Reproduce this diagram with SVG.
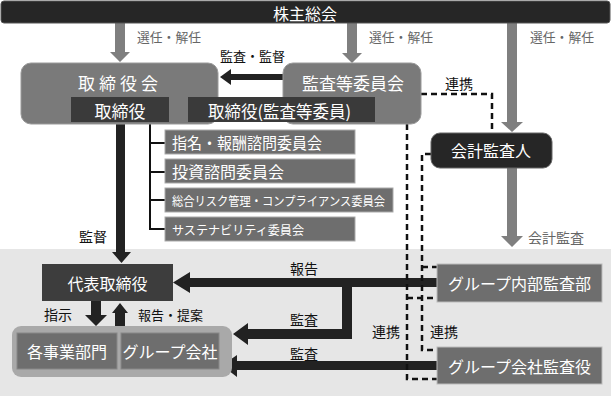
<svg xmlns="http://www.w3.org/2000/svg" width="611" height="396" viewBox="0 0 611 396">
<style>
text{font-family:"Noto Sans CJK JP","Noto Sans CJK SC",sans-serif;dominant-baseline:central}
.w{fill:#fff;font-size:16px}
.ws{fill:#fff;font-size:12.5px}
.lb{fill:#111;font-size:14px}
.lg{fill:#666;font-size:13px}
.mid{fill:#7a7a7a;stroke:#9a9a9a;stroke-width:1}
.dk{fill:#3a3a3a}
.cm{fill:#6e6e6e;stroke:#aaa;stroke-width:1}
.ga{fill:#7f7f7f}
.da{fill:#222}
.dash{fill:none;stroke:#111;stroke-width:2.5;stroke-dasharray:6 4}
</style>
<rect x="0" y="249" width="611" height="147" fill="#e6e6e6"/>
<g id="connectors">
  <path class="ga" d="M115,23H125V52H130L120,62L110,52H115Z"/>
  <path class="ga" d="M347,23H357V53H362L352,63L342,53H347Z"/>
  <path class="ga" d="M507,23H517V122H523L512,132L501,122H507Z"/>
  <path class="ga" d="M507,168H517V236H523L512,247L501,236H507Z"/>
  <path class="da" d="M283,74V80H231V85L220,77L231,69V74Z"/>
  <path class="da" d="M116,122H125V252H131L121.5,263L112,252H116Z"/>
  <path fill="none" stroke="#111" stroke-width="2" d="M150,124V229H165M150,143H165M150,172H165M150,200H165"/>
  <path class="da" d="M437,278V287H352V339H248V345L233,334L248,323V329H342V287H190V293L173,282.5L190,272V278Z"/>
  <path class="da" d="M437,361V370H237V377L222,365.5L237,355V361Z"/>
  <path class="da" d="M91,301H101V315H107L96,326L85,315H91Z"/>
  <path class="da" d="M115,326V313H112L120,303L128,313H125V326Z"/>
  <path class="dash" d="M421,94H492V133"/>
  <path class="dash" d="M407,124V379H437M407,298H437"/>
  <path class="dash" d="M431,154H422V350H437M422,267H437"/>
</g>
<g id="labels">
  <text class="lg" x="137" y="36" textLength="64" lengthAdjust="spacingAndGlyphs">選任・解任</text>
  <text class="lg" x="369" y="36" textLength="64" lengthAdjust="spacingAndGlyphs">選任・解任</text>
  <text class="lg" x="530" y="36" textLength="64" lengthAdjust="spacingAndGlyphs">選任・解任</text>
  <text class="lb" x="220" y="55" style="font-size:13px" textLength="65" lengthAdjust="spacingAndGlyphs">監査・監督</text>
  <text class="lb" x="445" y="83">連携</text>
  <text class="lb" x="79" y="236">監督</text>
  <text class="lg" x="528" y="237" style="font-size:14px">会計監査</text>
  <text class="lb" x="290" y="268">報告</text>
  <text class="lb" x="290" y="319">監査</text>
  <text class="lb" x="290" y="353">監査</text>
  <text class="lb" x="44" y="314">指示</text>
  <text class="lb" x="138" y="314" style="font-size:13px" textLength="65" lengthAdjust="spacingAndGlyphs">報告・提案</text>
  <text class="lb" x="372" y="331">連携</text>
  <text class="lb" x="430" y="331">連携</text>
</g>
<g id="shareholders">
  <rect x="1" y="1" width="609" height="22" rx="3" fill="#262626" stroke="#555"/>
  <text class="w" x="305" y="13" text-anchor="middle">株主総会</text>
</g>
<g id="board">
  <rect class="mid" x="21" y="63" width="197" height="61" rx="10"/>
  <text class="w" x="120" y="82" text-anchor="middle" style="font-size:17px;letter-spacing:4px">取締役会</text>
</g>
<g id="audit-committee">
  <rect class="mid" x="283" y="63" width="138" height="61" rx="10"/>
  <text class="w" x="353" y="82" text-anchor="middle" style="font-size:17px">監査等委員会</text>
</g>
<g id="directors">
  <rect class="dk" x="71" y="97" width="98" height="25"/>
  <text class="w" x="120" y="110" text-anchor="middle" style="font-size:17px">取締役</text>
</g>
<g id="directors-audit">
  <rect class="dk" x="188" y="97" width="187" height="25"/>
  <text class="w" x="208" y="110" style="font-size:17px" textLength="143" lengthAdjust="spacingAndGlyphs">取締役(監査等委員)</text>
</g>
<g id="accounting-auditor">
  <rect x="431" y="133" width="121" height="35" rx="9" fill="#262626" stroke="#666"/>
  <text class="w" x="491" y="150" text-anchor="middle">会計監査人</text>
</g>
<g id="committee-nomination">
  <rect class="cm" x="165" y="130" width="190" height="24"/>
  <text class="w" x="172" y="142" textLength="150" lengthAdjust="spacingAndGlyphs">指名・報酬諮問委員会</text>
</g>
<g id="committee-investment">
  <rect class="cm" x="165" y="159" width="190" height="24"/>
  <text class="w" x="172" y="171">投資諮問委員会</text>
</g>
<g id="committee-risk">
  <rect class="cm" x="165" y="188" width="228" height="24"/>
  <text class="ws" x="172" y="200" textLength="213" lengthAdjust="spacingAndGlyphs">総合リスク管理・コンプライアンス委員会</text>
</g>
<g id="committee-sustainability">
  <rect class="cm" x="165" y="217" width="190" height="24"/>
  <text class="ws" x="172" y="229" textLength="132" lengthAdjust="spacingAndGlyphs">サステナビリティ委員会</text>
</g>
<g id="representative">
  <rect x="42" y="264" width="131" height="37" fill="#3d3d3d"/>
  <text class="w" x="107.5" y="282.5" text-anchor="middle">代表取締役</text>
</g>
<g id="operations">
  <rect x="12" y="326" width="220" height="51" rx="9" fill="#a9a9a9"/>
  <rect class="cm" x="17" y="333" width="100" height="36" style="stroke:#888"/>
  <text class="w" x="67" y="351" text-anchor="middle">各事業部門</text>
  <rect class="cm" x="121" y="333" width="98" height="36" style="stroke:#888"/>
  <text class="w" x="170" y="351" text-anchor="middle">グループ会社</text>
</g>
<g id="internal-audit">
  <rect class="cm" x="437" y="264" width="165" height="38" style="stroke:#bbb"/>
  <text class="w" x="519.5" y="283" text-anchor="middle">グループ内部監査部</text>
</g>
<g id="group-auditors">
  <rect class="cm" x="437" y="347" width="165" height="37" style="stroke:#bbb"/>
  <text class="w" x="519.5" y="365.5" text-anchor="middle">グループ会社監査役</text>
</g>
</svg>
